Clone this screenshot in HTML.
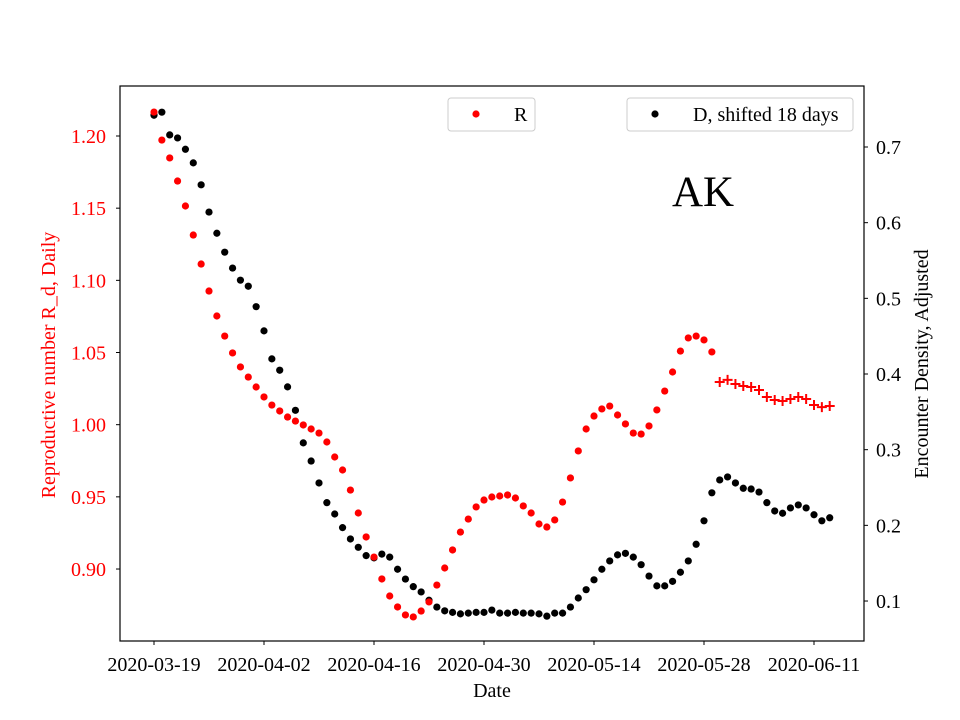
<!DOCTYPE html>
<html><head><meta charset="utf-8"><style>
body{margin:0;background:#fff}
svg{display:block;font-family:"Liberation Serif",serif}
</style></head><body>
<svg id="chart" width="960" height="720" xmlns="http://www.w3.org/2000/svg"></svg>
<script>
const startDate = "2020-03-19";
const tickLabels = ["2020-03-19","2020-04-02","2020-04-16","2020-04-30","2020-05-14","2020-05-28","2020-06-11"];
const tickDays = [0,14,28,42,56,70,84];
const leftTicks = [0.90,0.95,1.00,1.05,1.10,1.15,1.20];
const rightTicks = [0.1,0.2,0.3,0.4,0.5,0.6,0.7];
const rValues = [1.2166,1.1972,1.1848,1.1688,1.1515,1.1314,1.1113,1.0926,1.0753,1.0614,1.0497,1.0400,1.0330,1.0261,1.0192,1.0136,
1.0095,1.0053,1.0025,0.9998,0.9970,0.9942,0.9880,0.9776,0.9686,0.9547,0.9388,0.9222,0.9083,0.8931,0.8813,0.8737,0.8682,0.8668,0.8709,0.8772,0.8889,0.9007,0.9132,0.9256,0.9346,0.9430,0.9478,0.9499,0.9506,0.9513,0.9492,0.9437,0.9388,0.9312,0.9291,
0.9340,0.9464,0.9631,0.9818,0.9970,1.0060,1.0109,1.0129,1.0067,1.0005,0.9942,0.9935,0.9991,1.0102,1.0233,1.0365,1.0510,1.0601,1.0614,1.0587,1.0504];
const rProjected = [1.0296,1.0310,1.0282,1.0268,1.0261,1.0240,1.0192,1.0171,1.0164,1.0178,1.0192,1.0178,1.0136,1.0122,1.0129];
const dValues = [0.742,0.746,0.716,0.712,0.697,0.679,0.650,0.614,0.586,0.561,0.540,0.524,0.516,0.489,0.457,0.420,0.405,0.383,0.352,0.309,
0.285,0.256,0.230,0.215,0.197,0.182,0.171,0.160,0.157,0.162,0.158,0.142,0.129,0.119,0.112,0.101,0.092,0.087,0.085,0.083,0.084,0.085,0.085,0.088,0.084,0.084,0.085,0.084,0.084,0.083,0.080,
0.084,0.084,0.092,0.104,0.115,0.128,0.142,0.153,0.161,0.163,0.158,0.148,0.133,0.120,0.120,0.126,0.138,0.153,0.175,0.206,0.243,0.260,0.264,0.256,0.249,0.248,0.244,0.230,0.219,0.216,0.223,0.227,0.223,0.214,0.206,0.210];

const P={l:120,r:864,t:86,b:641};
const xs=d=>154+d*(660/84);
const yl=v=>136+(1.20-v)*1443.4;
const yr=v=>147+(0.7-v)*756.7;
const svg=document.getElementById('chart');
const NS="http://www.w3.org/2000/svg";
function mk(tag,attrs,parent){const e=document.createElementNS(NS,tag);for(const k in attrs)e.setAttribute(k,attrs[k]);(parent||svg).appendChild(e);return e;}
function txt(s,attrs){const e=mk('text',attrs);e.textContent=s;return e;}

const frame=mk('rect',{x:P.l,y:P.t,width:P.r-P.l,height:P.b-P.t,fill:'none',stroke:'#000','stroke-width':1.2});



tickDays.forEach((d,i)=>{
  const x=xs(d);
  const t=mk('line',{x1:x,x2:x,y1:P.b,y2:P.b+4,stroke:'#000'});
  
  
  const l=txt(tickLabels[i],{x:x,y:P.b+30,'text-anchor':'middle','font-size':20});
  
  
});
leftTicks.forEach(v=>{
  const y=yl(v);
  const t=mk('line',{x1:P.l-4,x2:P.l,y1:y,y2:y,stroke:'#000'});
  
  
  const l=txt(v.toFixed(2),{x:P.l-14,y:y+7,'text-anchor':'end','font-size':20,fill:'#ff0000'});
  
  
});
rightTicks.forEach(v=>{
  const y=yr(v);
  const t=mk('line',{x1:P.r,x2:P.r+4,y1:y,y2:y,stroke:'#000'});
  
  
  const l=txt(v.toFixed(1),{x:P.r+12,y:y+7,'text-anchor':'start','font-size':20});
  
  
});
let a=txt('Date',{x:492,y:697,'text-anchor':'middle','font-size':20});


a=txt('Reproductive number R_d, Daily',{x:0,y:0,'text-anchor':'middle','font-size':20,fill:'#ff0000',transform:'translate(55,365) rotate(-90)'});


a=txt('Encounter Density, Adjusted',{x:0,y:0,'text-anchor':'middle','font-size':20,transform:'translate(928,364) rotate(-90)'});



dValues.forEach((v,i)=>{
  const c=mk('circle',{cx:xs(i),cy:yr(v),r:3.6,fill:'#000'});
  
  
});
rValues.forEach((v,i)=>{
  const c=mk('circle',{cx:xs(i),cy:yl(v),r:3.6,fill:'#ff0000'});
  
  
});
rProjected.forEach((v,i)=>{
  const x=xs(rValues.length+i), y=yl(v);
  const p=mk('path',{d:`M${x-5},${y}H${x+5}M${x},${y-5}V${y+5}`,stroke:'#ff0000','stroke-width':2,fill:'none'});
  
  
});

let g=mk('g',{});


mk('rect',{x:448,y:98,width:87,height:33,rx:3,fill:'#fff',stroke:'#ccc'},g);
mk('circle',{cx:476,cy:114,r:3.6,fill:'#ff0000'},g);
let t=mk('text',{x:514,y:121,'font-size':20},g);t.textContent='R';
g=mk('g',{});


mk('rect',{x:627,y:98,width:226,height:33,rx:3,fill:'#fff',stroke:'#ccc'},g);
mk('circle',{cx:655,cy:114,r:3.6,fill:'#000'},g);
t=mk('text',{x:693,y:121,'font-size':20},g);t.textContent='D, shifted 18 days';

a=txt('AK',{x:703,y:206,'text-anchor':'middle','font-size':43});


</script>
</body></html>
